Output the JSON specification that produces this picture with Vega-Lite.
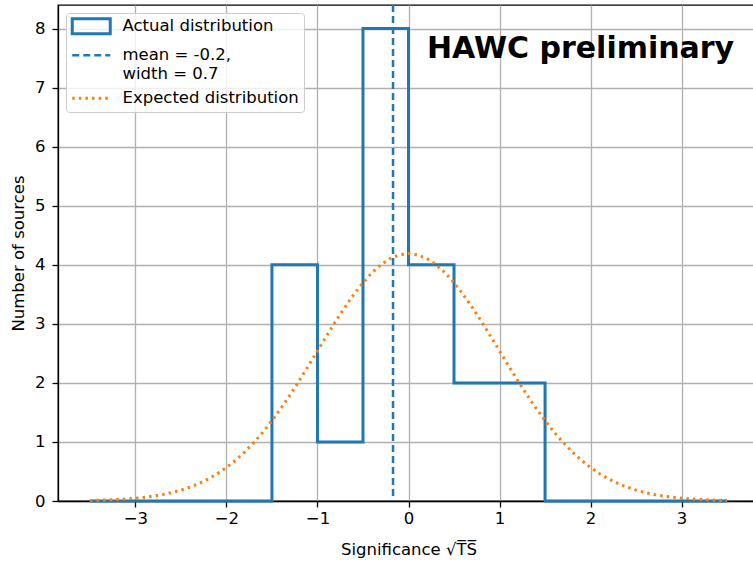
{
  "$schema": "https://vega.github.io/schema/vega-lite/v6.json",
  "width": 701,
  "height": 496,
  "autosize": {"type": "none"},
  "padding": {"left": 58, "top": 5, "right": 0, "bottom": 66},
  "background": "white",
  "config": {
    "font": "DejaVu Sans",
    "view": {"stroke": "black", "strokeWidth": 1.3},
    "axis": {
      "labelFont": "DejaVu Sans",
      "titleFont": "DejaVu Sans",
      "labelFontSize": 16.5,
      "titleFontSize": 16.5,
      "labelColor": "black",
      "titleColor": "black",
      "titleFontWeight": "normal",
      "tickColor": "black",
      "tickSize": 6,
      "tickWidth": 1.3,
      "domainColor": "black",
      "domainWidth": 1.3,
      "gridColor": "#b0b0b0",
      "gridWidth": 1.3
    },
    "legend": {
      "orient": "top-left",
      "offset": 8,
      "title": null,
      "fillColor": "rgba(255,255,255,0.8)",
      "strokeColor": "#cccccc",
      "cornerRadius": 3,
      "padding": 5,
      "labelFont": "DejaVu Sans",
      "labelFontSize": 16.5,
      "labelColor": "black",
      "labelLimit": 300,
      "labelOffset": 23,
      "symbolOffset": 12,
      "symbolSize": 1444,
      "symbolStrokeWidth": 3,
      "rowPadding": 7
    }
  },
  "datasets": {
    "hist": [
      {"x": -3.5, "y": 0, "i": 0},
      {"x": -1.5, "y": 0, "i": 1},
      {"x": -1.5, "y": 4, "i": 2},
      {"x": -1.0, "y": 4, "i": 3},
      {"x": -1.0, "y": 1, "i": 4},
      {"x": -0.5, "y": 1, "i": 5},
      {"x": -0.5, "y": 8, "i": 6},
      {"x": 0.0, "y": 8, "i": 7},
      {"x": 0.0, "y": 4, "i": 8},
      {"x": 0.5, "y": 4, "i": 9},
      {"x": 0.5, "y": 2, "i": 10},
      {"x": 1.5, "y": 2, "i": 11},
      {"x": 1.5, "y": 0, "i": 12},
      {"x": 3.5, "y": 0, "i": 13}
    ],
    "mean": [{"x": -0.17}],
    "gauss": [
      {"x": -3.5, "y": 0.009}, {"x": -3.4, "y": 0.013}, {"x": -3.3, "y": 0.018}, {"x": -3.2, "y": 0.025},
      {"x": -3.1, "y": 0.034}, {"x": -3.0, "y": 0.047}, {"x": -2.9, "y": 0.063}, {"x": -2.8, "y": 0.083},
      {"x": -2.7, "y": 0.109}, {"x": -2.6, "y": 0.143}, {"x": -2.5, "y": 0.184}, {"x": -2.4, "y": 0.235},
      {"x": -2.3, "y": 0.297}, {"x": -2.2, "y": 0.373}, {"x": -2.1, "y": 0.462}, {"x": -2.0, "y": 0.567},
      {"x": -1.9, "y": 0.689}, {"x": -1.8, "y": 0.829}, {"x": -1.7, "y": 0.988}, {"x": -1.6, "y": 1.165},
      {"x": -1.5, "y": 1.360}, {"x": -1.4, "y": 1.573}, {"x": -1.3, "y": 1.800}, {"x": -1.2, "y": 2.039},
      {"x": -1.1, "y": 2.288}, {"x": -1.0, "y": 2.541}, {"x": -0.9, "y": 2.795}, {"x": -0.8, "y": 3.043},
      {"x": -0.7, "y": 3.280}, {"x": -0.6, "y": 3.500}, {"x": -0.5, "y": 3.698}, {"x": -0.4, "y": 3.868},
      {"x": -0.3, "y": 4.006}, {"x": -0.2, "y": 4.107}, {"x": -0.1, "y": 4.169}, {"x": 0.0, "y": 4.190},
      {"x": 0.1, "y": 4.169}, {"x": 0.2, "y": 4.107}, {"x": 0.3, "y": 4.006}, {"x": 0.4, "y": 3.868},
      {"x": 0.5, "y": 3.698}, {"x": 0.6, "y": 3.500}, {"x": 0.7, "y": 3.280}, {"x": 0.8, "y": 3.043},
      {"x": 0.9, "y": 2.795}, {"x": 1.0, "y": 2.541}, {"x": 1.1, "y": 2.288}, {"x": 1.2, "y": 2.039},
      {"x": 1.3, "y": 1.800}, {"x": 1.4, "y": 1.573}, {"x": 1.5, "y": 1.360}, {"x": 1.6, "y": 1.165},
      {"x": 1.7, "y": 0.988}, {"x": 1.8, "y": 0.829}, {"x": 1.9, "y": 0.689}, {"x": 2.0, "y": 0.567},
      {"x": 2.1, "y": 0.462}, {"x": 2.2, "y": 0.373}, {"x": 2.3, "y": 0.297}, {"x": 2.4, "y": 0.235},
      {"x": 2.5, "y": 0.184}, {"x": 2.6, "y": 0.143}, {"x": 2.7, "y": 0.109}, {"x": 2.8, "y": 0.083},
      {"x": 2.9, "y": 0.063}, {"x": 3.0, "y": 0.047}, {"x": 3.1, "y": 0.034}, {"x": 3.2, "y": 0.025},
      {"x": 3.3, "y": 0.018}, {"x": 3.4, "y": 0.013}, {"x": 3.5, "y": 0.009}
    ],
    "label": [{"x": 1.89, "y": 7.5, "text": "HAWC preliminary"}]
  },
  "layer": [
    {
      "data": {"name": "hist"},
      "transform": [{"calculate": "'Actual distribution'", "as": "series"}],
      "mark": {"type": "line", "strokeWidth": 3, "interpolate": "linear", "strokeJoin": "miter"},
      "encoding": {
        "x": {
          "field": "x", "type": "quantitative",
          "scale": {"domain": [-3.85, 3.85], "nice": false, "zero": false},
          "axis": {"title": "Significance √T̅S̅", "values": [-3, -2, -1, 0, 1, 2, 3], "format": "d", "grid": true, "labelPadding": 3, "titlePadding": 15}
        },
        "y": {
          "field": "y", "type": "quantitative",
          "scale": {"domain": [0, 8.4], "nice": false, "zero": true},
          "axis": {"title": "Number of sources", "values": [0, 1, 2, 3, 4, 5, 6, 7, 8], "format": "d", "grid": true, "labelPadding": 7, "titlePadding": 8}
        },
        "order": {"field": "i", "type": "quantitative"},
        "color": {
          "field": "series", "type": "nominal",
          "scale": {
            "domain": ["Actual distribution", "mean = -0.2,|width = 0.7", "Expected distribution"],
            "range": ["#1f77b4", "#1f77b4", "#ff7f0e"]
          },
          "legend": {
            "labelExpr": "split(datum.label, '|')",
            "encode": {
              "symbols": {
                "update": {
                  "shape": {"signal": "datum.value == 'Actual distribution' ? 'M-1,-0.39H1V0.39H-1Z' : 'stroke'"},
                  "strokeDash": {"signal": "datum.value == 'Expected distribution' ? [2.5, 4.1] : datum.value == 'Actual distribution' ? [] : [7, 4]"},
                  "strokeWidth": {"signal": "datum.value == 'Expected distribution' ? 3 : datum.value == 'Actual distribution' ? 3 : 2.5"},
                  "fill": {"value": "transparent"}
                }
              },
              "labels": {
                "update": {"lineHeight": {"value": 19}}
              }
            }
          }
        }
      }
    },
    {
      "data": {"name": "mean"},
      "transform": [{"calculate": "'mean = -0.2,|width = 0.7'", "as": "series"}],
      "mark": {"type": "rule", "strokeWidth": 2.5, "strokeDash": [7, 4]},
      "encoding": {
        "x": {"field": "x", "type": "quantitative"},
        "color": {"field": "series", "type": "nominal"}
      }
    },
    {
      "data": {"name": "gauss"},
      "transform": [{"calculate": "'Expected distribution'", "as": "series"}],
      "mark": {"type": "line", "strokeWidth": 3, "strokeDash": [2.5, 4.1], "strokeCap": "butt"},
      "encoding": {
        "x": {"field": "x", "type": "quantitative"},
        "y": {"field": "y", "type": "quantitative"},
        "color": {"field": "series", "type": "nominal"}
      }
    },
    {
      "data": {"name": "label"},
      "mark": {"type": "text", "font": "DejaVu Sans", "fontSize": 30, "fontWeight": "bold", "color": "black", "align": "center", "baseline": "alphabetic"},
      "encoding": {
        "x": {"field": "x", "type": "quantitative"},
        "y": {"field": "y", "type": "quantitative"},
        "text": {"field": "text"}
      }
    }
  ]
}
